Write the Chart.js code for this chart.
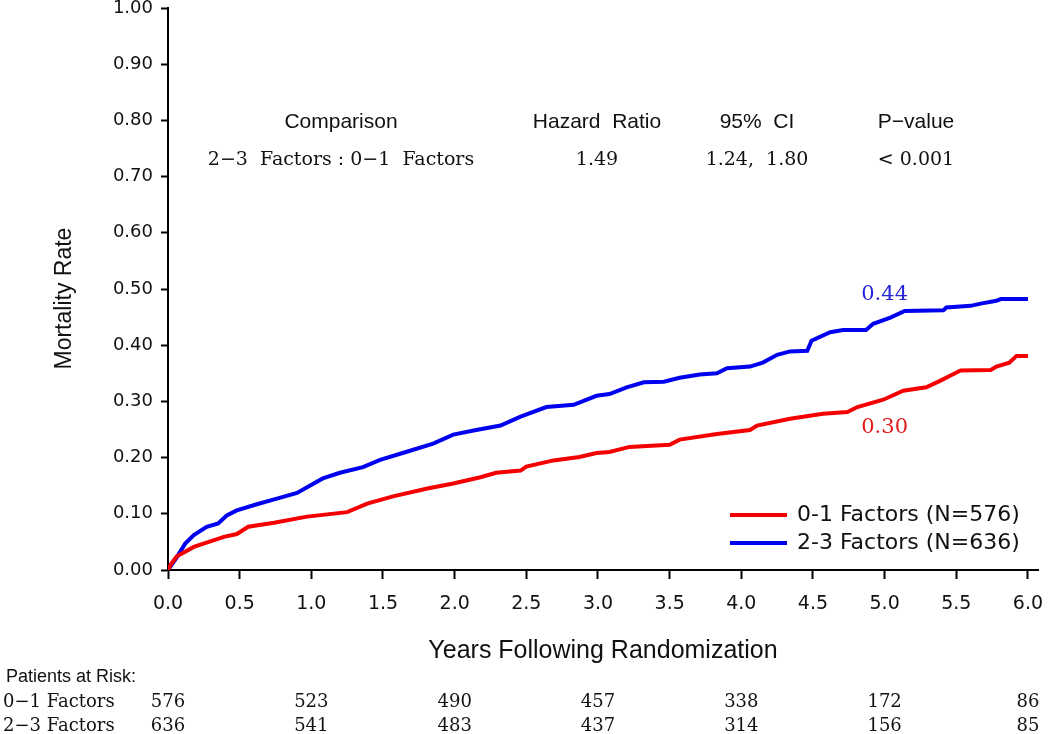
<!DOCTYPE html>
<html>
<head>
<meta charset="utf-8">
<script src="https://cdn.jsdelivr.net/npm/chart.js@4/dist/chart.umd.min.js"></script>
<style>
  html, body { margin: 0; padding: 0; background: #fff; }
  #wrap { width: 1050px; height: 734px; }
</style>
</head>
<body>
<div id="wrap"><canvas id="km-chart" width="1050" height="734"></canvas></div>
<script>
// curve: years / cumulative mortality
var red_t = [0, 0.02, 0.06, 0.18, 0.39, 0.48, 0.56, 0.74, 0.97, 1.25, 1.39, 1.57, 1.81, 1.99, 2.18, 2.29, 2.46, 2.50, 2.69, 2.87, 2.99, 3.08, 3.22, 3.50, 3.57, 3.83, 4.06, 4.11, 4.34, 4.57, 4.74, 4.81, 4.99, 5.13, 5.29, 5.39, 5.46, 5.53, 5.74, 5.78, 5.87, 5.92, 6.0];
var red_v = [0, 0.010, 0.024, 0.041, 0.059, 0.064, 0.077, 0.084, 0.095, 0.103, 0.118, 0.131, 0.145, 0.154, 0.165, 0.173, 0.177, 0.184, 0.195, 0.201, 0.208, 0.210, 0.219, 0.223, 0.232, 0.242, 0.249, 0.257, 0.269, 0.278, 0.281, 0.290, 0.303, 0.319, 0.325, 0.337, 0.346, 0.355, 0.356, 0.362, 0.369, 0.381, 0.381];

var blue_t = [0, 0.06, 0.12, 0.18, 0.27, 0.35, 0.41, 0.48, 0.62, 0.76, 0.90, 1.08, 1.20, 1.36, 1.48, 1.66, 1.85, 1.99, 2.15, 2.32, 2.46, 2.64, 2.83, 2.99, 3.08, 3.20, 3.32, 3.46, 3.57, 3.71, 3.83, 3.90, 4.06, 4.15, 4.25, 4.34, 4.46, 4.49, 4.62, 4.71, 4.87, 4.92, 5.04, 5.14, 5.41, 5.43, 5.60, 5.67, 5.78, 5.81, 6.0];
var blue_v = [0, 0.022, 0.047, 0.062, 0.077, 0.083, 0.097, 0.106, 0.117, 0.127, 0.137, 0.163, 0.173, 0.183, 0.196, 0.210, 0.225, 0.241, 0.249, 0.257, 0.273, 0.290, 0.294, 0.310, 0.313, 0.325, 0.334, 0.335, 0.342, 0.348, 0.350, 0.359, 0.362, 0.369, 0.383, 0.389, 0.390, 0.408, 0.423, 0.427, 0.427, 0.438, 0.449, 0.461, 0.462, 0.467, 0.470, 0.474, 0.479, 0.482, 0.482];

var series_names = ["0-1 Factors (N=576)", "2-3 Factors (N=636)"];
var end_labels = ["0.30", "0.44"];

// patients at risk
var risk_years = [0, 1, 2, 3, 4, 5, 6];
var risk_rows = ["0\u22121 Factors", "2\u22123 Factors"];
var risk_01 = [576, 523, 490, 457, 338, 172, 86];
var risk_23 = [636, 541, 483, 437, 314, 156, 85];

// comparison table
var cmp_head = ["Comparison", "Hazard  Ratio", "95%  CI", "P\u2212value"];
var cmp_row = ["2\u22123  Factors : 0\u22121  Factors", "1.49", "1.24,  1.80", "< 0.001"];

var SANS = '"Liberation Sans", Arial, sans-serif';
var TICK = '"DejaVu Sans", sans-serif';
var SERIF = '"DejaVu Serif", serif';

function pts(t, v) {
  var out = [];
  for (var i = 0; i < t.length; i++) out.push({x: t[i], y: v[i]});
  return out;
}

function txt(ctx, s, x, y, font, color, align) {
  ctx.save();
  ctx.font = font;
  ctx.fillStyle = color;
  ctx.textAlign = align || "center";
  ctx.textBaseline = "middle";
  ctx.fillText(s, x, y);
  ctx.restore();
}

var extras = {
  id: "extras",
  afterDraw: function(chart) {
    var ctx = chart.ctx;
    var xs = chart.scales.x, ys = chart.scales.y;

    // comparison table
    var cols = [341, 597, 757, 916];
    for (var i = 0; i < cols.length; i++) {
      txt(ctx, cmp_head[i], cols[i], 122, "21px " + SANS, "#111");
      txt(ctx, cmp_row[i], cols[i], 160, "19px " + SERIF, "#111");
    }

    // end values
    txt(ctx, end_labels[1], xs.getPixelForValue(5.0), ys.getPixelForValue(0.49), "21px " + SERIF, "#2424d8");
    txt(ctx, end_labels[0], xs.getPixelForValue(5.0), ys.getPixelForValue(0.253), "21px " + SERIF, "#e21a1a");

    // legend
    var ds = chart.data.datasets;
    for (var k = 0; k < ds.length; k++) {
      var ly = 515 + k * 28;
      ctx.save();
      ctx.strokeStyle = ds[k].borderColor;
      ctx.lineWidth = 4;
      ctx.beginPath();
      ctx.moveTo(730, ly);
      ctx.lineTo(787, ly);
      ctx.stroke();
      ctx.restore();
      txt(ctx, ds[k].label, 797, ly, "22px " + TICK, "#111", "left");
    }

    // patients at risk
    txt(ctx, "Patients at Risk:", 6, 677, "18px " + SANS, "#111", "left");
    var rows = [risk_01, risk_23];
    for (var r = 0; r < rows.length; r++) {
      var ry = 702 + r * 24;
      txt(ctx, risk_rows[r], 3, ry, "18px " + SERIF, "#111", "left");
      for (var j = 0; j < risk_years.length; j++) {
        txt(ctx, String(rows[r][j]), xs.getPixelForValue(risk_years[j]), ry, "18px " + SERIF, "#111");
      }
    }
  }
};

var data_ = {
  datasets: [{
    label: series_names[0],
    data: pts(red_t, red_v),
    borderColor: "rgb(245,0,0)",
    borderWidth: 4,
    pointRadius: 0,
    tension: 0
  }, {
    label: series_names[1],
    data: pts(blue_t, blue_v),
    borderColor: "rgb(0,0,240)",
    borderWidth: 4,
    pointRadius: 0,
    tension: 0
  }]
};

var options_ = {
  responsive: false,
  animation: false,
  devicePixelRatio: 1,
  layout: { padding: { left: 0, right: 12, top: 8, bottom: 0 } },
  plugins: { legend: { display: false }, tooltip: { enabled: false } },
  scales: {
    x: {
      type: "linear",
      min: 0,
      max: 6.07,
      border: { display: true, color: "#000", width: 2 },
      grid: { drawOnChartArea: false, drawTicks: true, tickLength: 9, tickColor: "#000", tickWidth: 2 },
      ticks: {
        stepSize: 0.5,
        includeBounds: false,
        padding: 14,
        color: "#111",
        font: { family: TICK, size: 19 },
        callback: function(v) { return v.toFixed(1); }
      },
      title: {
        display: true,
        text: "Years Following Randomization",
        color: "#111",
        font: { family: SANS, size: 25 },
        padding: { top: 0, bottom: 68 }
      },
      afterFit: function(s) { s.height = 164; s.paddingLeft = 0; s.paddingRight = 0; }
    },
    y: {
      min: 0,
      max: 1,
      border: { display: true, color: "#000", width: 2 },
      grid: { drawOnChartArea: false, drawTicks: true, tickLength: 7, tickColor: "#000", tickWidth: 2 },
      ticks: {
        stepSize: 0.1,
        padding: 8,
        color: "#111",
        font: { family: TICK, size: 18 },
        callback: function(v) { return v.toFixed(2); }
      },
      title: {
        display: true,
        text: "Mortality Rate   ",
        color: "#111",
        font: { family: SANS, size: 23 },
        padding: { top: 51, bottom: 0 }
      },
      afterFit: function(s) { s.width = 168; s.paddingTop = 0; s.paddingBottom = 0; }
    }
  }
};

new Chart(document.getElementById("km-chart"), {
  type: "line",
  data: data_,
  options: options_,
  plugins: [extras]
});
</script>
</body>
</html>
